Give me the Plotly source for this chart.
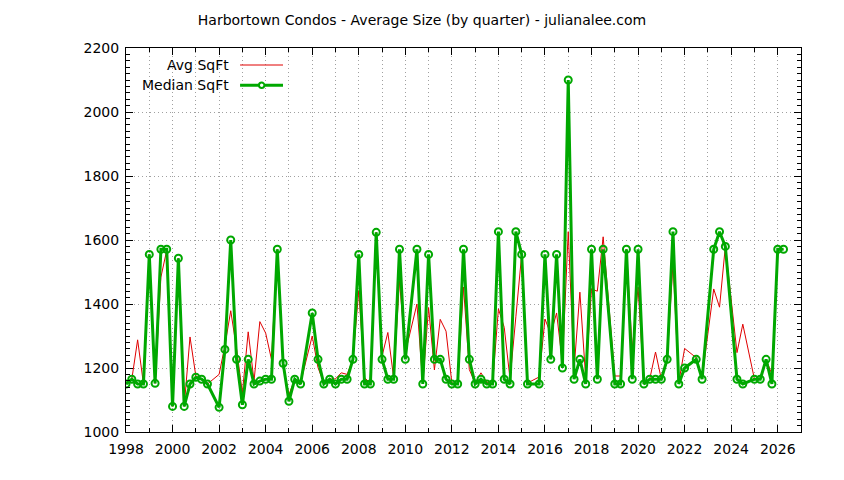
import plotly.graph_objects as go

# quarterly values (quarter start as decimal year), a few quarters have no data
quarters = [
    1998.00, 1998.25, 1998.50, 1998.75, 1999.00, 1999.25, 1999.50, 1999.75,
    2000.00, 2000.25, 2000.50, 2000.75, 2001.00, 2001.25, 2001.50,
    2002.00, 2002.25, 2002.50, 2002.75, 2003.00, 2003.25, 2003.50, 2003.75,
    2004.00, 2004.25, 2004.50, 2004.75, 2005.00, 2005.25, 2005.50,
    2006.00, 2006.25, 2006.50, 2006.75, 2007.00, 2007.25, 2007.50, 2007.75,
    2008.00, 2008.25, 2008.50, 2008.75, 2009.00, 2009.25, 2009.50, 2009.75,
    2010.00, 2010.50, 2010.75, 2011.00, 2011.25, 2011.50, 2011.75,
    2012.00, 2012.25, 2012.50, 2012.75, 2013.00, 2013.25, 2013.50, 2013.75,
    2014.00, 2014.25, 2014.50, 2014.75, 2015.00, 2015.25, 2015.75,
    2016.00, 2016.25, 2016.50, 2016.75, 2017.00, 2017.25, 2017.50, 2017.75,
    2018.00, 2018.25, 2018.50, 2019.00, 2019.25, 2019.50, 2019.75,
    2020.00, 2020.25, 2020.50, 2020.75, 2021.00, 2021.25, 2021.50, 2021.75,
    2022.00, 2022.50, 2022.75, 2023.25, 2023.50, 2023.75,
    2024.25, 2024.50, 2025.00, 2025.25, 2025.50, 2025.75,
    2026.00, 2026.25,
]

avg_sqft = [
    1150, 1165, 1288, 1150, 1555, 1152, 1484, 1568,
    1080, 1543, 1080, 1297, 1175, 1165, 1150,
    1180, 1270, 1379, 1260, 1122, 1313, 1159, 1345,
    1309, 1227, 1571, 1206, 1117, 1165, 1154,
    1300, 1201, 1153, 1165, 1166, 1185, 1180, 1227,
    1442, 1169, 1153, 1624, 1237, 1311, 1169, 1474,
    1248, 1400, 1150, 1389, 1194, 1352, 1315,
    1153, 1150, 1453, 1195, 1153, 1185, 1156, 1150,
    1385, 1327, 1165, 1360, 1555, 1153, 1172,
    1353, 1306, 1372, 1216, 1626, 1196, 1437, 1169,
    1447, 1440, 1610, 1175, 1175, 1571, 1257,
    1453, 1150, 1165, 1250, 1165, 1227, 1526, 1155,
    1261, 1232, 1169, 1447, 1390, 1580,
    1248, 1337, 1165, 1165, 1227, 1180,
    1571, 1571,
]

median_sqft = [
    1150, 1165, 1150, 1150, 1555, 1152, 1571, 1571,
    1080, 1543, 1080, 1150, 1171, 1165, 1150,
    1077, 1258, 1600, 1227, 1085, 1227, 1150, 1159,
    1165, 1165, 1571, 1215, 1096, 1165, 1150,
    1372, 1227, 1150, 1165, 1150, 1165, 1165, 1227,
    1555, 1150, 1150, 1624, 1227, 1165, 1165, 1571,
    1227, 1571, 1150, 1555, 1227, 1227, 1165,
    1150, 1150, 1571, 1227, 1150, 1165, 1150, 1150,
    1626, 1165, 1150, 1626, 1555, 1150, 1150,
    1555, 1227, 1555, 1200, 2100, 1165, 1227, 1150,
    1571, 1165, 1571, 1150, 1150, 1571, 1165,
    1571, 1150, 1165, 1165, 1165, 1227, 1626, 1150,
    1200, 1227, 1165, 1571, 1626, 1580,
    1165, 1150, 1165, 1165, 1227, 1150,
    1571, 1571,
]

RED = "#e00000"
GREEN = "#00a800"
FONT = "DejaVu Sans"
GRID = "#a0a0a0"

fig = go.Figure()
fig.add_trace(go.Scatter(x=quarters, y=avg_sqft, mode="lines", name="Avg SqFt",
                         line=dict(color=RED, width=1)))
fig.add_trace(go.Scatter(x=quarters, y=median_sqft, mode="lines+markers", name="Median SqFt",
                         line=dict(color=GREEN, width=3),
                         marker=dict(symbol="circle-open", size=7, color=GREEN,
                                     line=dict(color=GREEN, width=2))))

axis_common = dict(
    showline=True, linecolor="black", linewidth=1, mirror="ticks",
    ticks="inside", tickcolor="black", tickwidth=1,
    gridcolor=GRID, griddash="1px,3px", gridwidth=1,
    tickfont=dict(family=FONT, size=14, color="black"),
    zeroline=False,
)

fig.update_xaxes(range=[1998, 2027], dtick=2, tick0=1998, ticklen=7,
                 ticklabelstandoff=4,
                 minor=dict(dtick=1, ticks="inside", ticklen=4, tickcolor="black",
                            showgrid=True, gridcolor=GRID, griddash="1px,3px"),
                 **axis_common)
fig.update_yaxes(range=[1000, 2200], dtick=200, tick0=1000, ticklen=7,
                 ticklabelstandoff=3,
                 minor=dict(dtick=20, ticks="inside", ticklen=4, tickcolor="black",
                            showgrid=False),
                 **axis_common)

# gnuplot-style key: right-aligned text, sample to the right
key_rows = [("Avg SqFt", 0.9557, RED, 1, False), ("Median SqFt", 0.903, GREEN, 3, True)]
for label, ky, col, lw, marker in key_rows:
    fig.add_annotation(x=0.155, y=ky, xref="paper", yref="paper", text=label,
                       showarrow=False, xanchor="right", yanchor="middle",
                       font=dict(family=FONT, size=14, color="black"))
    fig.add_shape(type="line", xref="paper", yref="paper", x0=0.169, x1=0.2326,
                  y0=ky, y1=ky, line=dict(color=col, width=lw))
    if marker:
        fig.add_shape(type="circle", xref="paper", yref="paper",
                      x0=0.2010 - 0.0040, x1=0.2010 + 0.0040,
                      y0=ky - 0.0070, y1=ky + 0.0070,
                      line=dict(color=GREEN, width=2), fillcolor="white")

# the page adds an 8px body margin, so margins are trimmed by 8px on top/left
fig.update_layout(
    width=844, height=480,
    margin=dict(l=118, r=51, t=40, b=56),
    paper_bgcolor="white", plot_bgcolor="white",
    showlegend=False,
    title=dict(text="Harbortown Condos - Average Size (by quarter) - julianalee.com",
               x=0.5 - 8 / 844, xref="container", xanchor="center",
               y=1 - 12 / 480, yref="container", yanchor="middle",
               font=dict(family=FONT, size=14, color="black")),
)

fig.write_html("out.html")
